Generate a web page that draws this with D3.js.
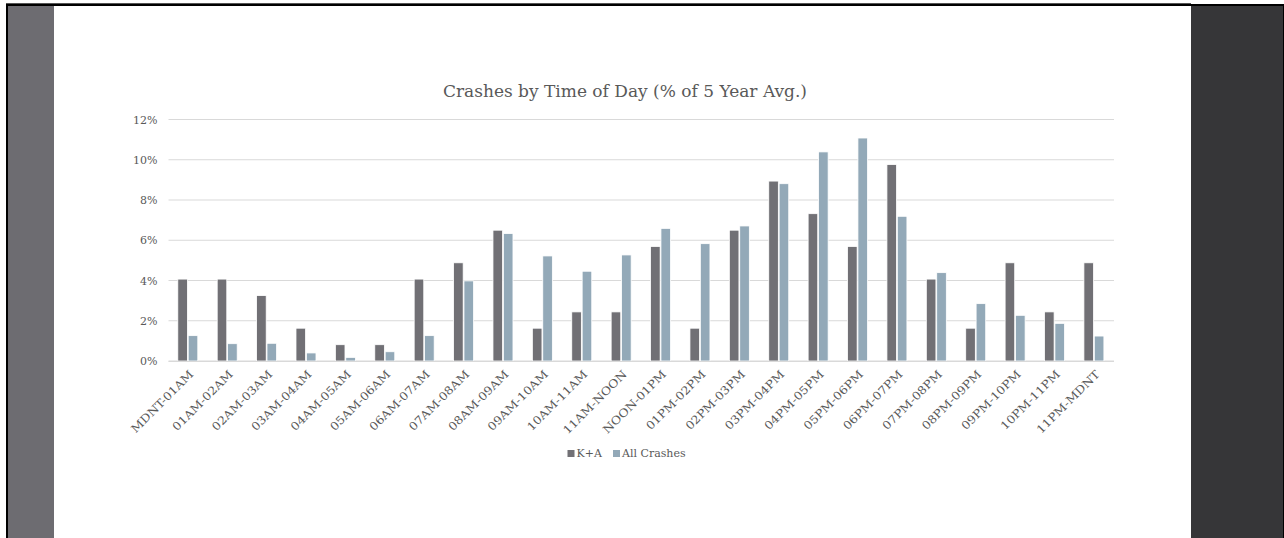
<!DOCTYPE html>
<html><head><meta charset="utf-8">
<script src="https://cdn.jsdelivr.net/npm/d3@7/dist/d3.min.js"></script>
<style>
html,body{margin:0;padding:0;background:#fff;}
svg{display:block;}
</style></head>
<body>
<svg id="chart" width="1284" height="538"></svg>
<script>
const categories = ["MDNT-01AM","01AM-02AM","02AM-03AM","03AM-04AM","04AM-05AM","05AM-06AM","06AM-07AM","07AM-08AM","08AM-09AM","09AM-10AM","10AM-11AM","11AM-NOON","NOON-01PM","01PM-02PM","02PM-03PM","03PM-04PM","04PM-05PM","05PM-06PM","06PM-07PM","07PM-08PM","08PM-09PM","09PM-10PM","10PM-11PM","11PM-MDNT"];
const kaValues = [4.07,4.07,3.25,1.63,0.81,0.81,4.07,4.88,6.50,1.63,2.44,2.44,5.69,1.63,6.50,8.94,7.32,5.69,9.76,4.07,1.63,4.88,2.44,4.88];
const allValues = [1.26,0.86,0.88,0.40,0.18,0.46,1.26,3.98,6.33,5.22,4.46,5.27,6.59,5.83,6.71,8.81,10.39,11.08,7.19,4.39,2.85,2.27,1.87,1.24];
const seriesNames = ["K+A","All Crashes"];
const yTicks = [0,2,4,6,8,10,12];
const title = "Crashes by Time of Day (% of 5 Year Avg.)";

const colors = ["#717075","#93a9b8"];
const textColor = "#595959";
const font = "'DejaVu Serif', 'Liberation Serif', serif";

const svg = d3.select("#chart");

// page frame
svg.append("rect").attr("x",0).attr("y",0).attr("width",1284).attr("height",538).attr("fill","#fff");
svg.append("rect").attr("x",6).attr("y",3).attr("width",1185).attr("height",1).attr("fill","#555");
svg.append("rect").attr("x",6).attr("y",4).attr("width",1278).attr("height",2).attr("fill","#000");
svg.append("rect").attr("x",6).attr("y",4).attr("width",2).attr("height",534).attr("fill","#000");
svg.append("rect").attr("x",8).attr("y",6).attr("width",46).attr("height",532).attr("fill","#6d6c71");
svg.append("rect").attr("x",1191).attr("y",6).attr("width",92).attr("height",532).attr("fill","#363638");
svg.append("rect").attr("x",1283).attr("y",4).attr("width",1).attr("height",534).attr("fill","#000");

const pL = 168.5, pR = 1114, pT = 119.5, pB = 361;

const x = d3.scaleBand().domain(categories).range([pL,pR]).paddingInner(0).paddingOuter(0);
const y = d3.scaleLinear().domain([0,12]).range([pB,pT]);

// gridlines
svg.append("g").selectAll("line").data(yTicks).join("line")
  .attr("x1",pL).attr("x2",pR)
  .attr("y1",d=>y(d)).attr("y2",d=>y(d))
  .attr("stroke","#d9d9d9").attr("stroke-width",1);

// y labels
const yAxis = d3.axisLeft(y).tickValues(yTicks).tickFormat(d=>d+"%").tickSize(0).tickPadding(0);
const ya = svg.append("g").attr("transform",`translate(${pL-11},0)`).call(yAxis);
ya.select(".domain").remove();
ya.selectAll("text").attr("fill",textColor).style("font-family",font).style("font-size","11px");

// bars
const barW = 9.6;
const sub = d3.scaleBand().domain([0,1]).range([0, barW*2+1.6]);
const groupOffset = (x.bandwidth() - (barW*2+1.6))/2;
const series = [kaValues, allValues];
series.forEach((vals, si) => {
  svg.append("g").selectAll("rect").data(vals).join("rect")
    .attr("x",(d,i)=>x(categories[i]) + groupOffset + sub(si))
    .attr("width",barW)
    .attr("y",d=>y(d))
    .attr("height",d=>y(0)-y(d))
    .attr("fill",colors[si])
    .attr("stroke","#ffffff").attr("stroke-width",0.8);
});

// x axis baseline
svg.append("line").attr("x1",pL).attr("x2",pR).attr("y1",pB+0.5).attr("y2",pB+0.5)
  .attr("stroke","#d9d9d9").attr("stroke-width",1);

// x labels
svg.append("g").selectAll("text").data(categories).join("text")
  .attr("transform",d=>`translate(${x(d)+x.bandwidth()/2+6},${pB+14}) rotate(-45) scale(1.12,1)`)
  .attr("text-anchor","end")
  .attr("fill",textColor).style("font-family",font).style("font-size","11.2px")
  .text(d=>d);

// title
svg.append("text").attr("x",625).attr("y",97).attr("text-anchor","middle")
  .attr("fill",textColor).style("font-family",font).style("font-size","17px")
  .text(title);

// legend
const legend = svg.append("g");
const legX = [567.5, 613];
seriesNames.forEach((n,i)=>{
  legend.append("rect").attr("x",legX[i]).attr("y",450).attr("width",7).attr("height",7).attr("fill",colors[i]);
  legend.append("text").attr("x",legX[i]+9).attr("y",457).attr("fill",textColor)
    .style("font-family",font).style("font-size","11px").text(n);
});
</script>
</body></html>
